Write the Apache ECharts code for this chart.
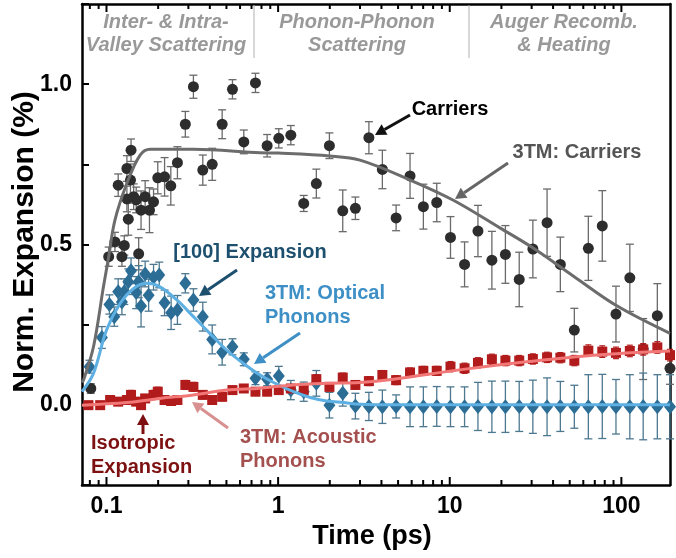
<!DOCTYPE html>
<html>
<head>
<meta charset="utf-8">
<script src="https://cdn.jsdelivr.net/npm/echarts@6/dist/echarts.min.js"></script>
<style>html,body{margin:0;padding:0;background:#fff;}#chart{width:676px;height:558px;}</style>
</head>
<body>
<div id="chart"></div>
<script>
// ---- Data ----
const carriersTime = [0.081,0.103,0.112,0.117,0.123,0.127,0.1315,0.1315,0.134,0.138,0.139,0.144,0.149,0.154,0.159,0.168,0.178,0.188,0.199,0.218,0.237,0.259,0.288,0.321,0.364,0.413,0.472,0.542,0.631,0.738,0.863,1.009,1.186,1.41,1.67,1.99,2.38,2.82,3.38,4.05,4.87,5.87,7.02,8.40,10.1,12.2,14.6,17.6,21.1,25.4,30.5,36.9,44.1,53.2,64.2,77.4,93,112,134,162,192];
const carriersValue = [0.051,0.462,0.508,0.685,0.462,0.497,0.737,0.642,0.579,0.701,0.794,0.649,0.639,0.471,0.607,0.649,0.607,0.633,0.708,0.711,0.683,0.755,0.875,0.992,0.732,0.75,0.875,0.984,0.82,1.004,0.808,0.831,0.841,0.628,0.69,0.808,0.605,0.613,0.833,0.734,0.583,0.714,0.618,0.631,0.522,0.438,0.542,0.451,0.469,0.391,0.486,0.568,0.438,0.233,0.488,0.558,0.283,0.396,0.174,0.278,0.114];
const carriersError = [0.015,0.03,0.03,0.035,0.03,0.03,0.04,0.04,0.05,0.05,0.035,0.04,0.04,0.05,0.06,0.05,0.07,0.04,0.05,0.06,0.06,0.05,0.04,0.036,0.047,0.05,0.045,0.03,0.037,0.03,0.035,0.03,0.03,0.025,0.045,0.04,0.065,0.035,0.05,0.06,0.04,0.07,0.07,0.06,0.065,0.07,0.08,0.09,0.09,0.085,0.09,0.105,0.085,0.068,0.1,0.11,0.087,0.105,0.095,0.1,0.05];

const expansionTime = [0.0796,0.094,0.104,0.111,0.117,0.123,0.127,0.134,0.139,0.149,0.154,0.159,0.168,0.176,0.188,0.203,0.218,0.238,0.259,0.288,0.321,0.364,0.413,0.472,0.542,0.631,0.738,0.863,1.009,1.186,1.41,1.67,1.99,2.38,2.82,3.38,4.05,4.87,5.87,7.02,8.40,10.1,12.2,14.6,17.6,21.1,25.4,30.5,36.9,44.1,53.2,64.2,77.4,93,112,134,162,192];
const expansionValue = [0.119,0.21,0.313,0.275,0.353,0.321,0.353,0.384,0.418,0.35,0.384,0.308,0.408,0.342,0.398,0.405,0.318,0.287,0.296,0.379,0.327,0.275,0.204,0.164,0.181,0.142,0.083,0.08,0.09,0.046,0.041,0.067,-0.001,0.036,-0.004,-0.005,-0.006,-0.005,-0.006,-0.006,-0.005,-0.006,-0.006,-0.005,-0.006,-0.006,-0.005,-0.006,-0.006,-0.005,-0.006,-0.006,-0.005,-0.006,-0.006,-0.005,-0.006,-0.006];
const expansionError = [0.02,0.034,0.03,0.03,0.04,0.04,0.04,0.04,0.04,0.05,0.05,0.065,0.04,0.05,0.04,0.04,0.04,0.052,0.045,0.03,0.035,0.045,0.045,0.04,0.025,0.02,0.02,0.02,0.03,0.03,0.03,0.04,0.04,0.04,0.04,0.044,0.052,0.036,0.062,0.062,0.062,0.062,0.062,0.075,0.08,0.08,0.078,0.083,0.09,0.078,0.067,0.1,0.1,0.085,0.1,0.104,0.1,0.1];

const isotropicTime = [0.0785,0.0919,0.105,0.117,0.1315,0.139,0.149,0.159,0.168,0.188,0.199,0.218,0.238,0.259,0.288,0.321,0.364,0.413,0.472,0.542,0.631,0.738,0.863,1.009,1.186,1.41,1.67,1.99,2.38,2.82,3.38,4.05,4.87,5.87,7.02,8.40,10.1,12.2,14.6,17.6,21.1,25.4,30.5,36.9,44.1,53.2,64.2,77.4,93,112,134,162,192];
const isotropicValue = [-0.001,-0.001,0.015,0.01,0.015,0.031,0.01,-0.001,0.02,0.031,0.041,0.015,0.012,0.015,0.062,0.056,0.031,0.015,0.025,0.046,0.051,0.041,0.041,0.046,0.051,0.046,0.08,0.056,0.085,0.062,0.074,0.093,0.077,0.101,0.106,0.106,0.119,0.114,0.131,0.142,0.138,0.138,0.143,0.148,0.147,0.138,0.169,0.166,0.162,0.168,0.173,0.179,0.155];
const isotropicError = [0.01,0.01,0.012,0.012,0.012,0.014,0.012,0.012,0.012,0.014,0.014,0.012,0.012,0.012,0.014,0.014,0.012,0.012,0.012,0.012,0.012,0.012,0.012,0.012,0.012,0.012,0.014,0.012,0.014,0.012,0.014,0.014,0.014,0.014,0.014,0.014,0.016,0.016,0.016,0.016,0.016,0.016,0.016,0.016,0.016,0.016,0.018,0.018,0.018,0.018,0.018,0.018,0.018];

const fitCarriersTime = [0.072,0.0735,0.084,0.096,0.103,0.112,0.1315,0.157,0.18,0.32,0.785,1.0,2.0,3.0,5.88,10.5,19.7,30.6,52.4,94.6,192];
const fitCarriersValue = [0.07,0.077,0.181,0.368,0.462,0.576,0.691,0.779,0.797,0.797,0.786,0.785,0.776,0.763,0.701,0.638,0.551,0.489,0.402,0.308,0.223];

const fitOpticalTime = [0.072,0.084,0.1,0.12,0.144,0.172,0.205,0.257,0.321,0.40,0.50,0.628,0.785,0.98,1.23,1.54,1.92,2.4,3.0,5.0,20,192];
const fitOpticalValue = [0.041,0.098,0.233,0.316,0.363,0.379,0.368,0.327,0.275,0.223,0.171,0.129,0.093,0.065,0.041,0.023,0.012,0.007,0.002,0,0,0];

const fitAcousticTime = [0.072,0.1315,0.205,0.321,0.5,0.785,1.23,1.92,3.0,4.7,11.4,28,68.7,192];
const fitAcousticValue = [-0.001,0.007,0.02,0.031,0.046,0.052,0.062,0.067,0.07,0.08,0.109,0.134,0.155,0.168];

const xTickLabels = [0.1, 1, 10, 100];
const xMinorTicks = [0.08,0.09,0.2,0.3,0.4,0.5,0.6,0.7,0.8,0.9,2,3,4,5,6,7,8,9,20,30,40,50,60,70,80,90];
const yTickLabels = [0.0, 0.5, 1.0];

// ---- Chart ----
const FONT = "'Liberation Sans', Arial, sans-serif";
const X_MIN = 0.072, X_MAX = 192, Y_MIN = -0.25, Y_MAX = 1.25;

function zip3(a, b, c) { return a.map((v, i) => [v, b[i], c ? c[i] : 0]); }

function errorBarRender(color, cap, width) {
  return function (params, api) {
    const x = api.value(0), y = api.value(1), e = api.value(2);
    const lo = api.coord([x, y - e]);
    const hi = api.coord([x, y + e]);
    const st = { stroke: color, lineWidth: width };
    return {
      type: 'group',
      children: [
        { type: 'line', shape: { x1: lo[0], y1: lo[1], x2: hi[0], y2: hi[1] }, style: st },
        { type: 'line', shape: { x1: lo[0] - cap, y1: lo[1], x2: lo[0] + cap, y2: lo[1] }, style: st },
        { type: 'line', shape: { x1: hi[0] - cap, y1: hi[1], x2: hi[0] + cap, y2: hi[1] }, style: st }
      ]
    };
  };
}

function tickRender(params, api) {
  const v = api.value(0), major = api.value(2);
  const b = api.coord([v, Y_MIN]);
  const t = api.coord([v, Y_MAX]);
  const len = major ? 8 : 5;
  const st = { stroke: '#000', lineWidth: 2 };
  return {
    type: 'group',
    children: [
      { type: 'line', shape: { x1: b[0], y1: b[1], x2: b[0], y2: b[1] - len }, style: st },
      { type: 'line', shape: { x1: t[0], y1: t[1], x2: t[0], y2: t[1] + len }, style: st }
    ]
  };
}

function arrow(x1, y1, x2, y2, color) {
  const ang = Math.atan2(y2 - y1, x2 - x1);
  const hl = 11, hw = 6;
  const bx = x2 - hl * Math.cos(ang), by = y2 - hl * Math.sin(ang);
  const px = -Math.sin(ang), py = Math.cos(ang);
  return [
    { type: 'line', z: 100, shape: { x1: x1, y1: y1, x2: bx, y2: by }, style: { stroke: color, lineWidth: 3 } },
    { type: 'polygon', z: 100, shape: { points: [[x2, y2], [bx + px * hw, by + py * hw], [bx - px * hw, by - py * hw]] }, style: { fill: color } }
  ];
}

function label(text, x, y, color, align, size, italic, lh) {
  return {
    type: 'text', z: 100, x: x, y: y,
    style: {
      text: text, fill: color,
      font: (italic ? 'italic ' : '') + 'bold ' + size + 'px ' + FONT,
      textAlign: align, textVerticalAlign: 'middle', lineHeight: lh || size + 4
    }
  };
}

const axisLineStyle = { show: true, onZero: false, lineStyle: { color: '#000', width: 2.5 } };

const option = {
  animation: false,
  backgroundColor: '#fff',
  grid: { left: 82, right: 6, top: 4, bottom: 73, outerBoundsMode: 'none' },
  xAxis: [
    {
      type: 'log', logBase: 10, min: X_MIN, max: X_MAX,
      axisLine: axisLineStyle, axisTick: { show: false }, minorTick: { show: false },
      splitLine: { show: false }, minorSplitLine: { show: false },
      axisLabel: {
        margin: 10, color: '#000', fontSize: 23, fontWeight: 'bold', fontFamily: FONT,
        showMinLabel: true, showMaxLabel: true,
        formatter: function (v) {
          const hit = xTickLabels.find(t => Math.abs(v - t) / t < 1e-6);
          return hit !== undefined ? String(hit) : '';
        }
      }
    },
    {
      type: 'log', logBase: 10, min: X_MIN, max: X_MAX, position: 'top',
      axisLine: axisLineStyle, axisTick: { show: false }, axisLabel: { show: false },
      splitLine: { show: false }
    }
  ],
  yAxis: [
    {
      type: 'value', min: Y_MIN, max: Y_MAX, interval: 0.25,
      axisLine: axisLineStyle,
      axisTick: { show: true, inside: true, length: 7, lineStyle: { color: '#000', width: 2 } },
      splitLine: { show: false },
      axisLabel: {
        margin: 10, color: '#000', fontSize: 23, fontWeight: 'bold', fontFamily: FONT,
        formatter: function (v) {
          const hit = yTickLabels.find(t => Math.abs(v - t) < 1e-6);
          return hit !== undefined ? hit.toFixed(1) : '';
        }
      }
    },
    {
      type: 'value', min: Y_MIN, max: Y_MAX, position: 'right',
      axisLine: axisLineStyle, axisTick: { show: false }, axisLabel: { show: false }, splitLine: { show: false }
    }
  ],
  series: [
    {
      name: 'xTicks', type: 'custom', renderItem: tickRender, clip: false, silent: true, z: 20,
      encode: { x: 0, y: 1 },
      data: xMinorTicks.map(v => [v, 0, 0]).concat(xTickLabels.map(v => [v, 0, 1]))
    },
    {
      name: 'Carriers error', type: 'custom', renderItem: errorBarRender('#6a6a6a', 4, 1.3), z: 2,
      encode: { x: 0, y: 1 }, data: zip3(carriersTime, carriersValue, carriersError)
    },
    {
      name: 'Carriers', type: 'scatter', symbol: 'circle', symbolSize: 11, z: 3,
      itemStyle: { color: '#2d2d2d', opacity: 1 },
      data: zip3(carriersTime, carriersValue).map(d => [d[0], d[1]])
    },
    {
      name: 'Expansion error', type: 'custom', renderItem: errorBarRender('#4d7890', 4, 1.3), z: 4,
      encode: { x: 0, y: 1 }, data: zip3(expansionTime, expansionValue, expansionError)
    },
    {
      name: '[100] Expansion', type: 'scatter', symbol: 'diamond', symbolSize: [12, 15], z: 5,
      itemStyle: { color: '#2c6d96', opacity: 1 },
      data: zip3(expansionTime, expansionValue).map(d => [d[0], d[1]])
    },
    {
      name: 'Isotropic error', type: 'custom', renderItem: errorBarRender('#b21c1c', 3, 1.2), z: 6,
      encode: { x: 0, y: 1 }, data: zip3(isotropicTime, isotropicValue, isotropicError)
    },
    {
      name: 'Isotropic Expansion', type: 'scatter', symbol: 'rect', symbolSize: [10, 10], z: 7,
      itemStyle: { color: '#b11b1b', opacity: 1 },
      data: zip3(isotropicTime, isotropicValue).map(d => [d[0], d[1]])
    },
    {
      name: '3TM: Carriers', type: 'line', showSymbol: false, smooth: 0.35, z: 8,
      lineStyle: { color: '#6c6c6c', width: 3 },
      data: fitCarriersTime.map((t, i) => [t, fitCarriersValue[i]])
    },
    {
      name: '3TM: Optical Phonons', type: 'line', showSymbol: false, smooth: 0.35, z: 9,
      lineStyle: { color: '#5eb0e2', width: 3 },
      data: fitOpticalTime.map((t, i) => [t, fitOpticalValue[i]])
    },
    {
      name: '3TM: Acoustic Phonons', type: 'line', showSymbol: false, smooth: 0.35, z: 10,
      lineStyle: { color: '#f27878', width: 3 },
      data: fitAcousticTime.map((t, i) => [t, fitAcousticValue[i]])
    }
  ],
  graphic: [
    // regime headers
    label('Inter- & Intra-\nValley Scattering', 166, 34, '#999999', 'center', 20, true, 23),
    label('Phonon-Phonon\nScattering', 357, 34, '#999999', 'center', 20, true, 23),
    label('Auger Recomb.\n& Heating', 564, 34, '#999999', 'center', 20, true, 23),
    { type: 'line', z: 100, shape: { x1: 254, y1: 5, x2: 254, y2: 58 }, style: { stroke: '#b0b0b0', lineWidth: 1 } },
    { type: 'line', z: 100, shape: { x1: 469, y1: 5, x2: 469, y2: 58 }, style: { stroke: '#b0b0b0', lineWidth: 1 } },
    // annotations
    label('Carriers', 450, 109, '#000000', 'center', 20),
    label('3TM: Carriers', 577, 152, '#555555', 'center', 20),
    label('[100] Expansion', 250, 252, '#1d4f6f', 'center', 20),
    label('3TM: Optical\nPhonons', 265, 305, '#3d8fc6', 'left', 20, false, 24),
    label('Isotropic\nExpansion', 91, 455, '#7d1111', 'left', 20, false, 24),
    label('3TM: Acoustic\nPhonons', 240, 449, '#a4504f', 'left', 20, false, 24),
    ...arrow(410, 115, 375, 135, '#111111'),
    ...arrow(508, 163, 455, 199, '#666666'),
    ...arrow(237, 270, 199, 296, '#1d4f6f'),
    ...arrow(300, 333, 254, 364, '#3d8fc6'),
    ...arrow(143, 434, 143, 414, '#7d1111'),
    ...arrow(228, 428, 192, 402, '#d89090'),
    // axis titles
    { type: 'text', z: 100, x: 25, y: 242, rotation: Math.PI / 2,
      style: { text: 'Norm. Expansion (%)', fill: '#000', font: 'bold 30px ' + FONT, textAlign: 'center', textVerticalAlign: 'middle' } },
    { type: 'text', z: 100, x: 372, y: 537,
      style: { text: 'Time (ps)', fill: '#000', font: 'bold 27px ' + FONT, textAlign: 'center', textVerticalAlign: 'middle' } }
  ]
};

const chart = echarts.init(document.getElementById('chart'), null, { renderer: 'canvas' });
chart.setOption(option);
</script>
</body>
</html>
